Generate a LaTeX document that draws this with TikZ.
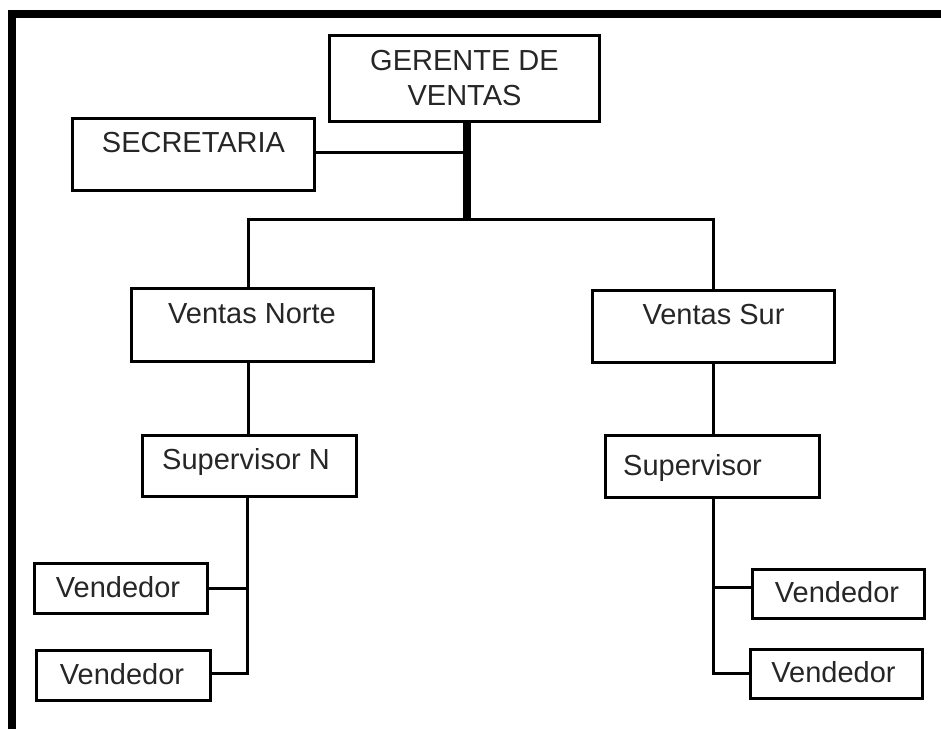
\documentclass[tikz,border=0pt]{standalone}
\usepackage{fontspec}
\setmainfont{Liberation Sans}
\begin{document}
\begin{tikzpicture}[x=1pt,y=-1pt,
  box/.style={draw, line width=3pt, rectangle, inner sep=0pt},
  txt/.style={inner sep=0pt, anchor=base, font=\fontsize{29}{35}\selectfont, text=black!85},
  txtl/.style={txt, anchor=base west},
  conn/.style={line width=3pt, line join=miter},
  trunkline/.style={line width=8pt}]
\useasboundingbox (0,0) rectangle (941,729);
% frame
\draw[line width=8pt, line join=miter] (12,729) -- (12,14) -- (941,14);
% boxes
\node[box, minimum width=270pt, minimum height=86pt] (ger) at (464.5,78.5) {};
\node[box, minimum width=242pt, minimum height=72pt] (sec) at (193.5,154.5) {};
\node[box, minimum width=242pt, minimum height=73pt] (vn) at (252.5,325) {};
\node[box, minimum width=242pt, minimum height=72pt] (vs) at (713.5,326.5) {};
\node[box, minimum width=214pt, minimum height=61pt] (sn) at (249.5,466) {};
\node[box, minimum width=214pt, minimum height=62pt] (ss) at (712.5,466.5) {};
\node[box, minimum width=173pt, minimum height=50pt] (vl1) at (121,588.5) {};
\node[box, minimum width=174pt, minimum height=50pt] (vl2) at (123.5,675.5) {};
\node[box, minimum width=172pt, minimum height=49pt] (vr1) at (838.5,594) {};
\node[box, minimum width=172pt, minimum height=49pt] (vr2) at (836.5,674) {};
% texts
\node[txt] (tger1) at (464.5,70) {GERENTE DE};
\node[txt] (tger2) at (464.5,105) {VENTAS};
\node[txt] (tsec) at (193.5,152) {SECRETARIA};
\node[txt] (tvn) at (252,323) {Ventas Norte};
\node[txt] (tvs) at (713.5,324) {Ventas Sur};
\node[txtl] (tsn) at (162,469) {Supervisor N};
\node[txtl] (tss) at (623,475) {Supervisor};
\node[txt] (tvl1) at (118,597) {Vendedor};
\node[txt] (tvl2) at (122,684) {Vendedor};
\node[txt] (tvr1) at (837,602) {Vendedor};
\node[txt] (tvr2) at (833.5,682) {Vendedor};
% junction coordinates
\coordinate (trunk) at (467,219);
\coordinate (secj) at (467,152);
\coordinate (busL) at (248,219);
\coordinate (busR) at (713,219);
\coordinate (nL) at (247,673);
\coordinate (lj1) at (247,588);
\coordinate (nR) at (713,673);
\coordinate (rj1) at (713,587);
% connectors
\draw[trunkline] (ger.south -| trunk) -- ([yshift=-1.5pt]trunk);
\draw[conn] (secj -| sec.east) -- (secj);
\draw[conn] (vn.north -| busL) -- (busL) -- (busR) -- (vs.north -| busR);
\draw[conn] (vn.south -| busL) -- (sn.north -| busL);
\draw[conn] (vs.south -| busR) -- (ss.north -| busR);
\draw[conn] (sn.south -| nL) -- (nL) -- (nL -| vl2.east);
\draw[conn] (lj1 -| vl1.east) -- (lj1);
\draw[conn] (ss.south -| nR) -- (nR) -- (nR -| vr2.west);
\draw[conn] (rj1) -- (rj1 -| vr1.west);
\end{tikzpicture}
\end{document}
